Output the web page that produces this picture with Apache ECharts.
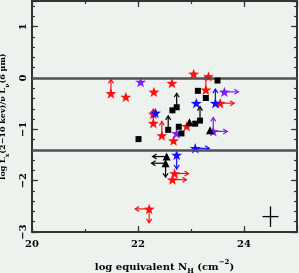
<!DOCTYPE html>
<html><head><meta charset="utf-8">
<script src="https://cdn.jsdelivr.net/npm/echarts@6/dist/echarts.min.js"></script>
<style>html,body{margin:0;padding:0;background:#eef2ee}#c{width:299px;height:273px}</style>
</head><body><div id="c"></div>
<script>
// ---- data (log N_H, log Lx/nuLnu) ----
const xTickLabels = [20, 22, 24];
const yTickLabels = [-3, -2, -1, 0, 1];
const refLines = [0, -1.4];

const redStars = [[21.49,-0.30],[21.77,-0.37],[22.30,-0.27],[22.64,-0.10],[23.05,0.08],[23.33,0.03],
  [23.28,-0.23],[23.55,-0.49],[22.29,-0.70],[22.29,-0.88],[22.45,-1.12],[22.92,-0.94],[22.67,-1.22],
  [22.69,-1.86],[22.65,-1.98],[22.21,-2.55]];
const redLimits = [[21.49,-0.30,'up'],[23.28,-0.23,'up'],[23.55,-0.49,'right'],[22.29,-0.88,'up'],
  [22.45,-1.12,'up'],[22.69,-1.86,'right'],[22.65,-1.98,'right'],[22.21,-2.55,'left'],[22.21,-2.55,'down']];

const blueStars = [[22.33,-0.68],[23.10,-0.49],[23.46,-0.49],[23.08,-1.37],[22.73,-1.50]];
const blueLimits = [[23.46,-0.49,'up'],[23.08,-1.37,'right'],[22.73,-1.50,'down']];

const purpleStars = [[22.05,-0.08],[23.63,-0.27],[22.73,-1.08],[23.42,-1.04]];
const purpleLimits = [[23.63,-0.27,'right'],[23.42,-1.04,'up'],[23.42,-1.04,'right']];

const blackSquares = [[23.50,-0.05],[23.13,-0.25],[23.28,-0.39],[22.73,-0.57],[22.65,-0.63],[23.17,-0.83],
  [23.08,-0.89],[22.77,-0.95],[22.82,-1.08],[22.57,-1.01],[22.01,-1.19]];
const blackTriangles = [[22.97,-0.86],[23.36,-1.02],[22.54,-1.53],[22.52,-1.66]];
const blackLimits = [[22.73,-0.57,'up'],[23.17,-0.83,'up'],[22.57,-1.01,'up'],[22.54,-1.53,'left'],
  [22.52,-1.66,'left'],[22.52,-1.66,'down']];

const errorBar = [[24.5, -2.7, 0.15, 0.2]]; // x, y, half-width x, half-height y

// ---- chart ----
const FONT = 'DejaVu Serif';
const STAR = 'path://M50 0 L61.76 33.82 L97.55 34.55 L69.02 56.18 L79.39 90.45 L50 70 L20.61 90.45 L30.98 56.18 L2.45 34.55 L38.24 33.82 Z';
const DIRS = ['up','down','left','right'];
const AX = '#333';

function fmtNum(v){ return v < 0 ? '\u2212' + Math.abs(v) : String(v); }
function isIn(v, arr){ return arr.some(a => Math.abs(a - v) < 1e-6); }

function arrowSeries(data, color){
  return {
    type:'custom', xAxisIndex:0, yAxisIndex:0, silent:true, z:3,
    data: data.map(d => [d[0], d[1], DIRS.indexOf(d[2])]),
    encode:{x:0, y:1},
    renderItem:(params, api) => {
      const p = api.coord([api.value(0), api.value(1)]);
      const dir = api.value(2);
      const L = 14, h = 4, w = 2.5;
      const dx = [0,0,-1,1][dir], dy = [-1,1,0,0][dir];
      const ex = p[0] + dx*L, ey = p[1] + dy*L;
      const px = -dy, py = dx;
      return {type:'group', children:[
        {type:'line', shape:{x1:p[0], y1:p[1], x2:ex, y2:ey}, style:{stroke:color, lineWidth:1.2}},
        {type:'polyline', shape:{points:[[ex - dx*h + px*w, ey - dy*h + py*w],[ex, ey],[ex - dx*h - px*w, ey - dy*h - py*w]]},
          style:{stroke:color, lineWidth:1.2, fill:null}}
      ]};
    }
  };
}

function scatter(data, symbol, size, color, z){
  return {type:'scatter', xAxisIndex:0, yAxisIndex:0, data, symbol, symbolSize:size, symbolKeepAspect:true,
    itemStyle:{color, opacity:1}, z:z||4, silent:true};
}

const txt = {fontFamily:FONT, fontWeight:'bold', color:'#000'};
function xAx(pos, interval, len, labels, line, name){
  return {type:'value', min:20, max:25, interval, position:pos,
    axisLine:{show:line, onZero:false, lineStyle:{color:AX, width:2}},
    axisTick:{show:true, inside:true, length:len, lineStyle:{color:AX, width:1.2}},
    axisLabel:{show:labels, ...txt, fontSize:10, margin:7, showMaxLabel:false,
      formatter: v => isIn(v, xTickLabels) ? fmtNum(v) : ''},
    splitLine:{show:false},
    name: name || '', nameLocation:'middle', nameGap:27,
    nameTextStyle:{...txt, fontSize:10, rich:{
      n:{...txt, fontSize:10, lineHeight:16},
      sub:{...txt, fontSize:7, lineHeight:7, verticalAlign:'bottom'},
      sup:{...txt, fontSize:7, lineHeight:7, verticalAlign:'top'}}}
  };
}
function yAx(pos, interval, len, labels, line, name){
  return {type:'value', min:-3, max:1.5, interval, position:pos,
    axisLine:{show:line, onZero:false, lineStyle:{color:AX, width:2}},
    axisTick:{show:true, inside:true, length:len, lineStyle:{color:AX, width:1.2}},
    axisLabel:{show:labels, ...txt, fontSize:10, margin:4, rotate:90, showMaxLabel:false,
      formatter: v => isIn(v, yTickLabels) ? fmtNum(Math.round(v)) : ''},
    splitLine:{show:false},
    name: name || '', nameLocation:'middle', nameGap:21, nameRotate:90,
    nameTextStyle:{...txt, fontSize:8, rich:{
      n:{...txt, fontSize:8, lineHeight:14},
      sub:{...txt, fontSize:6, lineHeight:6, verticalAlign:'bottom'}}}
  };
}

const chart = echarts.init(document.getElementById('c'), null, {renderer:'canvas'});
chart.setOption({
  backgroundColor:'#eef2ee',
  animation:false,
  grid:{left:32, right:2, top:1, bottom:41, containLabel:false, outerBoundsMode:'none'},
  xAxis:[
    xAx('bottom', 1, 3, true, true, '{n|log equivalent N}{sub|H}{n| (cm}{sup|\u22122}{n|)}'),
    xAx('bottom', 2, 6, false, false),
    xAx('top', 1, 3, false, true),
    xAx('top', 2, 6, false, false)
  ],
  yAxis:[
    yAx('left', 0.2, 3, true, true, '{n|log L}{sub|x}{n|(2\u221210 kev)/\u03bd L}{sub|\u03bd}{n|(6 \u03bcm)}'),
    yAx('left', 1, 6, false, false),
    yAx('right', 0.2, 3, false, true),
    yAx('right', 1, 6, false, false)
  ],
  series:[
    {type:'line', xAxisIndex:0, yAxisIndex:0, data:[], silent:true,
      markLine:{silent:true, symbol:'none', label:{show:false},
        lineStyle:{color:'#505050', width:2.5, type:'solid'},
        data: refLines.map(v => ({yAxis:v}))}},
    arrowSeries(redLimits, '#ff1010'),
    arrowSeries(blueLimits, '#1010ff'),
    arrowSeries(purpleLimits, '#8020f0'),
    arrowSeries(blackLimits, '#000'),
    scatter(purpleStars, STAR, 11, '#8020f0'),
    scatter(redStars, STAR, 11, '#ff1010'),
    scatter(blueStars, STAR, 11, '#1010ff'),
    scatter(blackSquares, 'rect', 6, '#000', 5),
    scatter(blackTriangles, 'triangle', 8, '#000', 5),
    {type:'custom', xAxisIndex:0, yAxisIndex:0, silent:true, data:errorBar, encode:{x:0,y:1},
      renderItem:(params, api) => {
        const x = api.value(0), y = api.value(1), ex = api.value(2), ey = api.value(3);
        const a = api.coord([x-ex, y]), b = api.coord([x+ex, y]);
        const c = api.coord([x, y-ey]), d = api.coord([x, y+ey]);
        return {type:'group', children:[
          {type:'line', shape:{x1:a[0],y1:a[1],x2:b[0],y2:b[1]}, style:{stroke:'#000', lineWidth:1.3}},
          {type:'line', shape:{x1:c[0],y1:c[1],x2:d[0],y2:d[1]}, style:{stroke:'#000', lineWidth:1.3}}
        ]};
      }}
  ]
});
</script></body></html>
